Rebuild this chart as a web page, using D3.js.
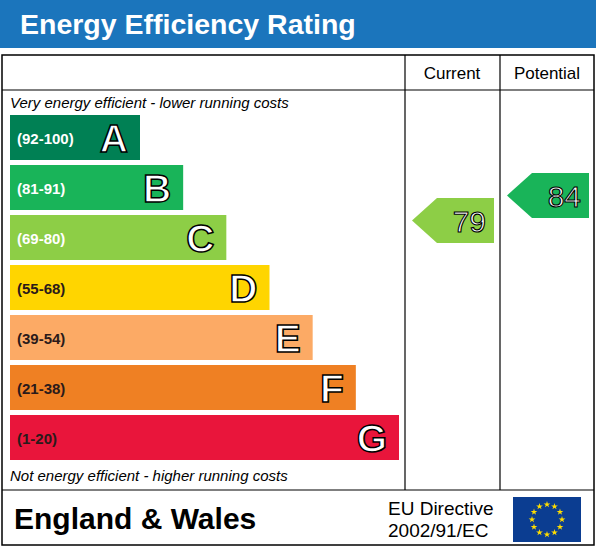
<!DOCTYPE html><html><head><meta charset="utf-8">
<script src="https://cdn.jsdelivr.net/npm/d3@7"></script>
<style>body{margin:0;background:#fff}</style></head><body>
<script>
const bandLetters=["A","B","C","D","E","F","G"];
const bandRanges=["(92-100)","(81-91)","(69-80)","(55-68)","(39-54)","(21-38)","(1-20)"];
const bandColors=["#008054","#19b459","#8dce46","#ffd500","#fcaa65","#ef8023","#e9153b"];
const currentRating=79, potentialRating=84;
const currentBand=2, potentialBand=1;

const W=596,H=547;
const svg=d3.select("body").append("svg").attr("width",W).attr("height",H).style("font-family","Arial, 'Liberation Sans', sans-serif");
svg.append("rect").attr("x",0).attr("y",0).attr("width",W).attr("height",48).attr("fill","#1b75bc");
svg.append("text").attr("x",20).attr("y",34).attr("fill","#fff").attr("font-size",28.5).attr("font-weight","bold").text("Energy Efficiency Rating");
svg.append("rect").attr("x",2).attr("y",55).attr("width",592).attr("height",490).attr("fill","none").attr("stroke","#000").attr("stroke-width",1.5);
[[405,55,405,490],[500,55,500,490],[2,90,594,90],[2,490,594,490]].forEach(l=>svg.append("line").attr("x1",l[0]).attr("y1",l[1]).attr("x2",l[2]).attr("y2",l[3]).attr("stroke","#000").attr("stroke-width",1.2));
svg.append("text").attr("x",452).attr("y",79).attr("text-anchor","middle").attr("font-size",17).text("Current");
svg.append("text").attr("x",547).attr("y",79).attr("text-anchor","middle").attr("font-size",17).text("Potential");
svg.append("text").attr("x",10).attr("y",108).attr("font-size",15).attr("font-style","italic").text("Very energy efficient - lower running costs");
svg.append("text").attr("x",10).attr("y",481).attr("font-size",15).attr("font-style","italic").text("Not energy efficient - higher running costs");

const y=d3.scaleBand().domain(bandLetters).range([115,460]).paddingInner(0.1).paddingOuter(0);
const xr=d3.scaleLinear().domain([0,6]).range([140,399]);
const g=svg.selectAll(".b").data(bandLetters).enter().append("g");
g.append("rect").attr("x",10).attr("y",d=>y(d)).attr("height",y.bandwidth()).attr("width",(d,i)=>xr(i)-10).attr("fill",(d,i)=>bandColors[i]);
g.append("text").attr("x",17).attr("y",d=>y(d)+y.bandwidth()/2+6).attr("font-size",15).attr("font-weight","bold").attr("fill",(d,i)=>i>=3?"#2a1a1a":"#fff").text((d,i)=>bandRanges[i]);
g.append("text").attr("x",(d,i)=>xr(i)-12).attr("y",d=>y(d)+y.bandwidth()/2+14).attr("text-anchor","end").attr("font-size",39).attr("font-weight","bold").attr("fill","#fff").attr("stroke","#000").attr("stroke-width",1.5).text(d=>d);

const ya=d3.scaleLinear().domain([79,84]).range([220.5,195.5]);
function arrow(x0,x1,val,col){
  const cy=ya(val),h=45,t=25;
  svg.append("path").attr("d",`M${x0},${cy} L${x0+t},${cy-h/2} L${x1},${cy-h/2} L${x1},${cy+h/2} L${x0+t},${cy+h/2} Z`).attr("fill",col);
  svg.append("text").attr("x",x1-8).attr("y",cy+11).attr("text-anchor","end").attr("font-size",30).attr("fill","#fff").attr("stroke","#000").attr("stroke-width",1.1).text(val);
}
arrow(412,494,currentRating,bandColors[currentBand]);
arrow(507,589,potentialRating,bandColors[potentialBand]);

svg.append("text").attr("x",14).attr("y",529).attr("font-size",30).attr("font-weight","bold").text("England & Wales");
svg.append("text").attr("x",388).attr("y",515).attr("font-size",19).text("EU Directive");
svg.append("text").attr("x",388).attr("y",537).attr("font-size",19).text("2002/91/EC");
svg.append("rect").attr("x",513).attr("y",497).attr("width",68).attr("height",45).attr("fill","#0b3d91");
const star=d3.symbol().type(d3.symbolStar).size(14);
d3.range(12).forEach(i=>{const a=i*Math.PI/6;svg.append("path").attr("d",star).attr("fill","#ffdd00").attr("transform",`translate(${547+15*Math.sin(a)},${519.5-15*Math.cos(a)})`);});
</script></body></html>
